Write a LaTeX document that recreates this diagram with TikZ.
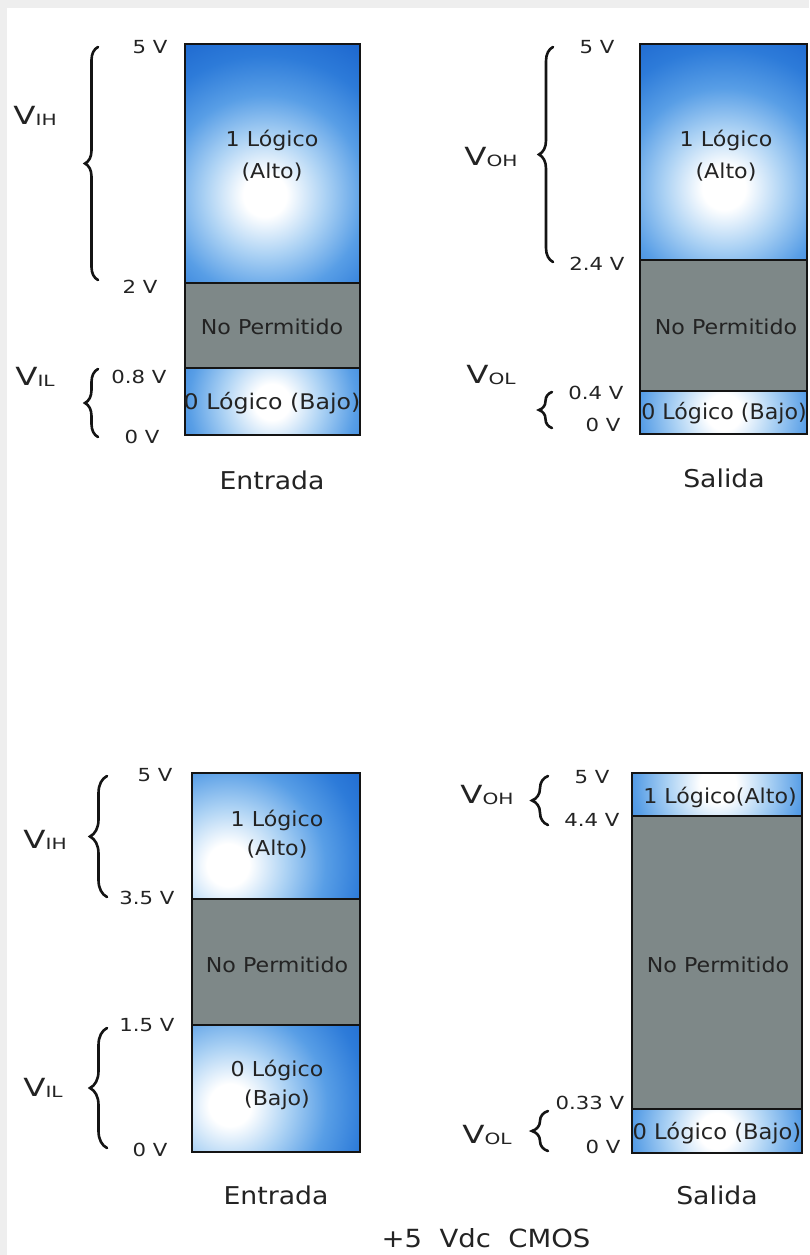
\documentclass[tikz,border=0pt]{standalone}
\usepackage{fontspec}
\setmainfont{DejaVu Sans}
\usetikzlibrary{decorations.pathreplacing}
\definecolor{gfill}{RGB}{126,136,136}
\definecolor{bc1}{RGB}{172,210,244}
\definecolor{bc2}{RGB}{88,158,230}
\definecolor{bc3}{RGB}{45,123,217}
\definecolor{bdeep}{RGB}{28,102,206}
\definecolor{ink}{RGB}{35,35,35}
\definecolor{framegray}{RGB}{238,238,238}
\pgfdeclareradialshading{glow}{\pgfpointorigin}{color(0bp)=(white); color(3bp)=(white); color(8.3bp)=(bc1); color(13.9bp)=(bc2); color(19.4bp)=(bc3); color(25bp)=(bdeep); color(50bp)=(bdeep)}
\newcommand\glowbox[7]{%
  \begin{scope}
    \clip (#1,#2) rectangle (#3,#4);
    \fill[bdeep] (#1,#2) rectangle (#3,#4);
    \shade[shading=glow] (#5,#6) circle [radius=#7pt];
  \end{scope}}
\newcommand\VV[1]{V\raisebox{-0.5pt}{\fontsize{15.5}{15.5}\selectfont #1}}
\tikzset{
  boxline/.style={line width=2.8pt, draw=black!92},
  boxtxt/.style={font=\fontsize{20.5}{24}\selectfont, text=ink, inner sep=0pt, xscale=1.08},
  lowtxt/.style={font=\fontsize{21.5}{24}\selectfont, text=ink, inner sep=0pt, xscale=#1},
  lowtxt/.default=1.1,
  volt/.style={font=\fontsize{18}{18}\selectfont, text=ink, inner sep=0pt, xscale=1.18},
  captxt/.style={font=\fontsize{24.5}{24.5}\selectfont, text=ink, inner sep=0pt, xscale=1.09},
  vname/.style={font=\fontsize{25}{25}\selectfont, text=ink, inner sep=0pt, xscale=1.3},
  brc/.style={decorate, decoration={brace, amplitude=#1}, line width=2.6pt, line cap=round, draw=black!92},
  brc/.default=13pt
}
\begin{document}
\begin{tikzpicture}[x=1pt,y=-1pt]
\useasboundingbox (0,0) rectangle (809,1255);
\fill[framegray] (0,0) rectangle (809,1255);
\fill[white] (7,8) rectangle (809,1255);

% ---------- top-left (Entrada TTL) ----------
\glowbox{185}{44}{360}{283}{265}{195}{180}
\fill[gfill] (185,283) rectangle (360,368);
\glowbox{185}{368}{360}{435}{272}{402}{150}
\draw[boxline] (185,44) rectangle (360,435) (185,283) -- (360,283) (185,368) -- (360,368);
\node[boxtxt] (tl1a) at (272,140) {1 Lógico};
\node[boxtxt] (tl1b) at (272,172) {(Alto)};
\node[boxtxt] (tlnp) at (272,327) {No Permitido};
\node[lowtxt] (tl0) at (272,403) {0 Lógico (Bajo)};
\node[volt] (tlv5) at (150,47) {5 V};
\node[volt] (tlv2) at (140,287) {2 V};
\node[volt] (tlv08) at (139,377) {0.8 V};
\node[volt] (tlv0) at (142,437) {0 V};
\node[vname] (tlvih) at (35,116) {\VV{IH}};
\node[vname] (tlvil) at (35,377) {\VV{IL}};
\coordinate (tlb1a) at (98,280); \coordinate (tlb1b) at (98,47);
\coordinate (tlb2a) at (98,437); \coordinate (tlb2b) at (98,369);
\draw[brc=13pt] (tlb1a) -- (tlb1b);
\draw[brc=13pt] (tlb2a) -- (tlb2b);
\node[captxt] (tlcap) at (272,480) {Entrada};

% ---------- top-right (Salida TTL) ----------
\glowbox{640}{44}{807}{260}{724}{188}{180}
\fill[gfill] (640,260) rectangle (807,391);
\glowbox{640}{391}{807}{434}{724}{412}{150}
\draw[boxline] (640,44) rectangle (807,434) (640,260) -- (807,260) (640,391) -- (807,391);
\node[boxtxt] (tr1a) at (726,140) {1 Lógico};
\node[boxtxt] (tr1b) at (726,172) {(Alto)};
\node[boxtxt] (trnp) at (726,327) {No Permitido};
\node[lowtxt=1.03] (tr0) at (724,413) {0 Lógico (Bajo)};
\node[volt] (trv5) at (597,47) {5 V};
\node[volt] (trv24) at (597,264) {2.4 V};
\node[volt] (trv04) at (596,393) {0.4 V};
\node[volt] (trv0) at (603,425) {0 V};
\node[vname] (trvoh) at (491,157) {\VV{OH}};
\node[vname] (trvol) at (491,375) {\VV{OL}};
\coordinate (trb1a) at (553,262); \coordinate (trb1b) at (553,47);
\coordinate (trb2a) at (552,428); \coordinate (trb2b) at (552,392);
\draw[brc=14pt] (trb1a) -- (trb1b);
\draw[brc=13pt] (trb2a) -- (trb2b);
\node[captxt] (trcap) at (724,478) {Salida};

% ---------- bottom-left (Entrada CMOS) ----------
\glowbox{192}{773}{360}{899}{228}{865}{175}
\fill[gfill] (192,899) rectangle (360,1025);
\glowbox{192}{1025}{360}{1152}{230}{1105}{175}
\draw[boxline] (192,773) rectangle (360,1152) (192,899) -- (360,899) (192,1025) -- (360,1025);
\node[boxtxt] (bl1a) at (277,820) {1 Lógico};
\node[boxtxt] (bl1b) at (277,849) {(Alto)};
\node[boxtxt] (blnp) at (277,965) {No Permitido};
\node[boxtxt] (bl0a) at (277,1070) {0 Lógico};
\node[boxtxt] (bl0b) at (277,1100) {(Bajo)};
\node[volt] (blv5) at (155,775) {5 V};
\node[volt] (blv35) at (147,898) {3.5 V};
\node[volt] (blv15) at (147,1025) {1.5 V};
\node[volt] (blv0) at (150,1150) {0 V};
\node[vname] (blvih) at (45,840) {\VV{IH}};
\node[vname] (blvil) at (43,1088) {\VV{IL}};
\coordinate (blb1a) at (107,897); \coordinate (blb1b) at (107,776);
\coordinate (blb2a) at (107,1148); \coordinate (blb2b) at (107,1028);
\draw[brc=17pt] (blb1a) -- (blb1b);
\draw[brc=17pt] (blb2a) -- (blb2b);
\node[captxt] (blcap) at (276,1195) {Entrada};

% ---------- bottom-right (Salida CMOS) ----------
\glowbox{632}{773}{802}{816}{718}{784}{150}
\fill[gfill] (632,816) rectangle (802,1109);
\glowbox{632}{1109}{802}{1153}{717}{1131}{150}
\draw[boxline] (632,773) rectangle (802,1153) (632,816) -- (802,816) (632,1109) -- (802,1109);
\node[boxtxt] (br1) at (720,797) {1 Lógico(Alto)};
\node[boxtxt] (brnp) at (718,965) {No Permitido};
\node[lowtxt=1.05] (br0) at (717,1133) {0 Lógico (Bajo)};
\node[volt] (brv5) at (592,777) {5 V};
\node[volt] (brv44) at (592,820) {4.4 V};
\node[volt] (brv033) at (590,1103) {0.33 V};
\node[volt] (brv0) at (603,1147) {0 V};
\node[vname] (brvoh) at (487,795) {\VV{OH}};
\node[vname] (brvol) at (487,1135) {\VV{OL}};
\coordinate (brb1a) at (548,825); \coordinate (brb1b) at (548,776);
\coordinate (brb2a) at (548,1151); \coordinate (brb2b) at (548,1111);
\draw[brc=16pt] (brb1a) -- (brb1b);
\draw[brc=16pt] (brb2a) -- (brb2b);
\node[captxt] (brcap) at (717,1195) {Salida};

\node[font=\fontsize{25}{25}\selectfont, text=ink, inner sep=0pt, xscale=1.1] (title) at (486,1238) {+5\ \ Vdc\ \ CMOS};
\end{tikzpicture}
\end{document}
